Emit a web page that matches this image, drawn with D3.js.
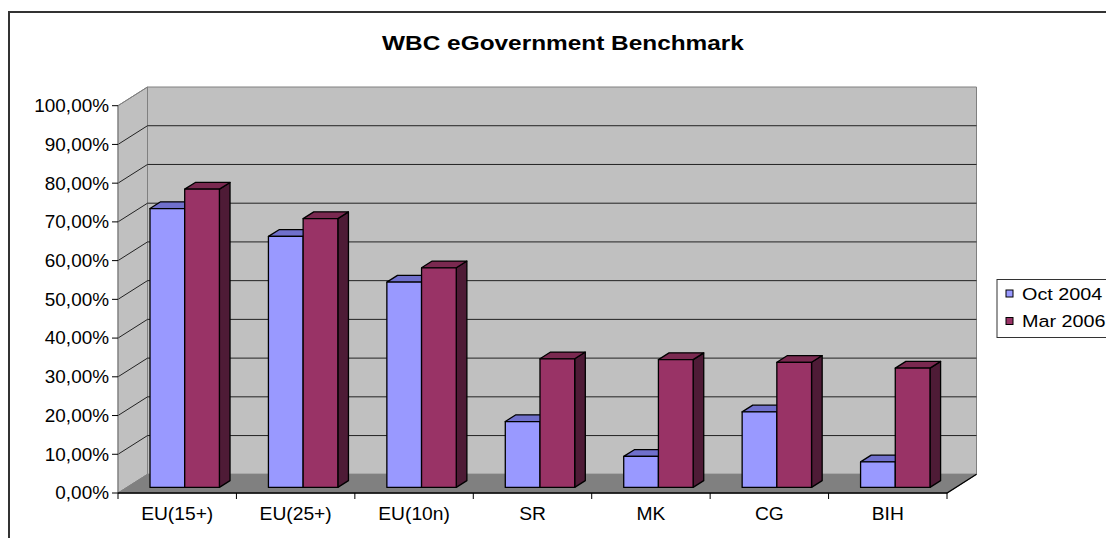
<!DOCTYPE html>
<html>
<head>
<meta charset="utf-8">
<script src="https://cdn.jsdelivr.net/npm/d3@7"></script>
<style>
  body { margin: 0; background: #fff; }
  text { font-family: "Liberation Sans", Arial, sans-serif; fill: #000; }
</style>
</head>
<body>
<svg width="1106" height="538"></svg>
<script>
// Chart data
var categories = ["EU(15+)", "EU(25+)", "EU(10n)", "SR", "MK", "CG", "BIH"];
var seriesNames = ["Oct 2004", "Mar 2006"];
var oct2004 = [0.72, 0.648, 0.53, 0.17, 0.08, 0.195, 0.066];
var mar2006 = [0.77, 0.694, 0.567, 0.332, 0.33, 0.323, 0.308];
var yTicks = [0, 0.1, 0.2, 0.3, 0.4, 0.5, 0.6, 0.7, 0.8, 0.9, 1.0];

var faceColors = ["#9999ff", "#993366"];
var topColors = ["#7070cc", "#7a2950"];
var sideColors = ["#5c5ca8", "#4e1b36"];

var svg = d3.select("svg");

// oblique depth offset for the full depth of the plot box
var DX = 29.5, DY = -18.7;
var barFront = 0.3, barBack = 0.66;

var x = d3.scaleBand().domain(categories).range([118, 947]);
var y = d3.scaleLinear().domain([0, 1]).range([493, 105.7]);

var pct = d3.formatLocale({ decimal: ",", thousands: ".", grouping: [3], currency: ["", ""] }).format(".2%");

function p(px, py, d) {
    return [px + d * DX, py + d * DY];
}
function poly(pts) {
    return pts.map(function (q) { return q[0] + "," + q[1]; }).join(" ");
}
// text placed at (tx,ty) and stretched sideways like the original rendering
function label(parent, tx, ty, sx) {
    return parent.append("text")
        .attr("transform", "translate(" + tx + "," + ty + ") scale(" + sx + ",1)");
}

// outer frame
svg.append("path")
    .attr("d", "M9,540 L9,12 L1110,12")
    .attr("fill", "none")
    .attr("stroke", "#333")
    .attr("stroke-width", 2);

// title
label(svg, 563, 49.5, 1.22)
    .attr("text-anchor", "middle")
    .attr("font-size", "20px")
    .attr("font-weight", "bold")
    .text("WBC eGovernment Benchmark");

var x0 = x.range()[0], x1 = x.range()[1];
var yb = y(0), yt = y(1);

// back wall
svg.append("polygon")
    .attr("points", poly([p(x0, yb, 1), p(x1, yb, 1), p(x1, yt, 1), p(x0, yt, 1)]))
    .attr("fill", "#c0c0c0")
    .attr("stroke", "#808080");

// side wall
svg.append("polygon")
    .attr("points", poly([p(x0, yb, 0), p(x0, yt, 0), p(x0, yt, 1), p(x0, yb, 1)]))
    .attr("fill", "#c0c0c0")
    .attr("stroke", "#808080");

// floor
svg.append("polygon")
    .attr("points", poly([p(x0, yb, 0), p(x1, yb, 0), p(x1, yb, 1), p(x0, yb, 1)]))
    .attr("fill", "#808080")
    .attr("stroke", "#808080");

// gridlines
var grid = svg.append("g");
yTicks.slice(1, yTicks.length - 1).forEach(function (t) {
    var a = p(x0, y(t), 0), b = p(x0, y(t), 1), c = p(x1, y(t), 1);
    grid.append("polyline")
        .attr("points", poly([a, b, c]))
        .attr("fill", "none")
        .attr("stroke", "#222")
        .attr("stroke-width", 1);
});
// top edge diagonal
svg.append("line")
    .attr("x1", x0).attr("y1", yt)
    .attr("x2", x0 + DX).attr("y2", yt + DY)
    .attr("stroke", "#808080");

// bars
var series = [oct2004, mar2006];
var band = x.bandwidth();
var bw = band * 0.293;
var bars = svg.append("g");
categories.forEach(function (cat, ci) {
    series.forEach(function (vals, si) {
        var v = vals[ci];
        var bx0 = x(cat) + band * 0.1955 + si * bw;
        var bx1 = bx0 + bw;
        var ytop = y(v), ybot = y(0);
        var g = bars.append("g")
            .attr("stroke", "#000")
            .attr("stroke-width", 1.3)
            .attr("stroke-linejoin", "round");
        // side
        g.append("polygon")
            .attr("points", poly([p(bx1, ytop, barFront), p(bx1, ybot, barFront), p(bx1, ybot, barBack), p(bx1, ytop, barBack)]))
            .attr("fill", sideColors[si]);
        // top
        g.append("polygon")
            .attr("points", poly([p(bx0, ytop, barFront), p(bx1, ytop, barFront), p(bx1, ytop, barBack), p(bx0, ytop, barBack)]))
            .attr("fill", topColors[si]);
        // front
        g.append("polygon")
            .attr("points", poly([p(bx0, ytop, barFront), p(bx1, ytop, barFront), p(bx1, ybot, barFront), p(bx0, ybot, barFront)]))
            .attr("fill", faceColors[si]);
    });
});

// y axis
svg.append("line")
    .attr("x1", x0).attr("y1", yb)
    .attr("x2", x0).attr("y2", yt)
    .attr("stroke", "#808080");
var yAxis = svg.append("g");
yTicks.forEach(function (t) {
    yAxis.append("line")
        .attr("x1", x0 - 6).attr("x2", x0)
        .attr("y1", y(t)).attr("y2", y(t))
        .attr("stroke", "#000");
    label(yAxis, x0 - 9, y(t), 1.07)
        .attr("dy", "0.36em")
        .attr("text-anchor", "end")
        .attr("font-size", "17.7px")
        .text(pct(t));
});

// x axis
var xAxis = svg.append("g");
xAxis.append("polyline")
    .attr("points", poly([p(x0, yb, 0), p(x1, yb, 0), p(x1, yb, 1)]))
    .attr("fill", "none")
    .attr("stroke", "#000")
    .attr("stroke-width", 1.3);
categories.forEach(function (cat, i) {
    xAxis.append("line")
        .attr("x1", x(cat)).attr("x2", x(cat))
        .attr("y1", yb).attr("y2", yb + 6)
        .attr("stroke", "#000");
    label(xAxis, x(cat) + band / 2, 519.5, 1.04)
        .attr("text-anchor", "middle")
        .attr("font-size", "18.5px")
        .text(cat);
});
xAxis.append("line")
    .attr("x1", x1).attr("x2", x1)
    .attr("y1", yb).attr("y2", yb + 6)
    .attr("stroke", "#000");

// legend
var legend = svg.append("g");
legend.append("rect")
    .attr("x", 997).attr("y", 279.5)
    .attr("width", 120).attr("height", 58)
    .attr("fill", "#fff")
    .attr("stroke", "#333");
seriesNames.forEach(function (name, i) {
    var ly = 294 + i * 27.5;
    legend.append("rect")
        .attr("x", 1006).attr("y", ly - 4)
        .attr("width", 7).attr("height", 7)
        .attr("fill", faceColors[i])
        .attr("stroke", "#000");
    label(legend, 1022, ly, 1.2)
        .attr("dy", "0.36em")
        .attr("font-size", "16.5px")
        .text(name);
});
</script>
</body>
</html>
